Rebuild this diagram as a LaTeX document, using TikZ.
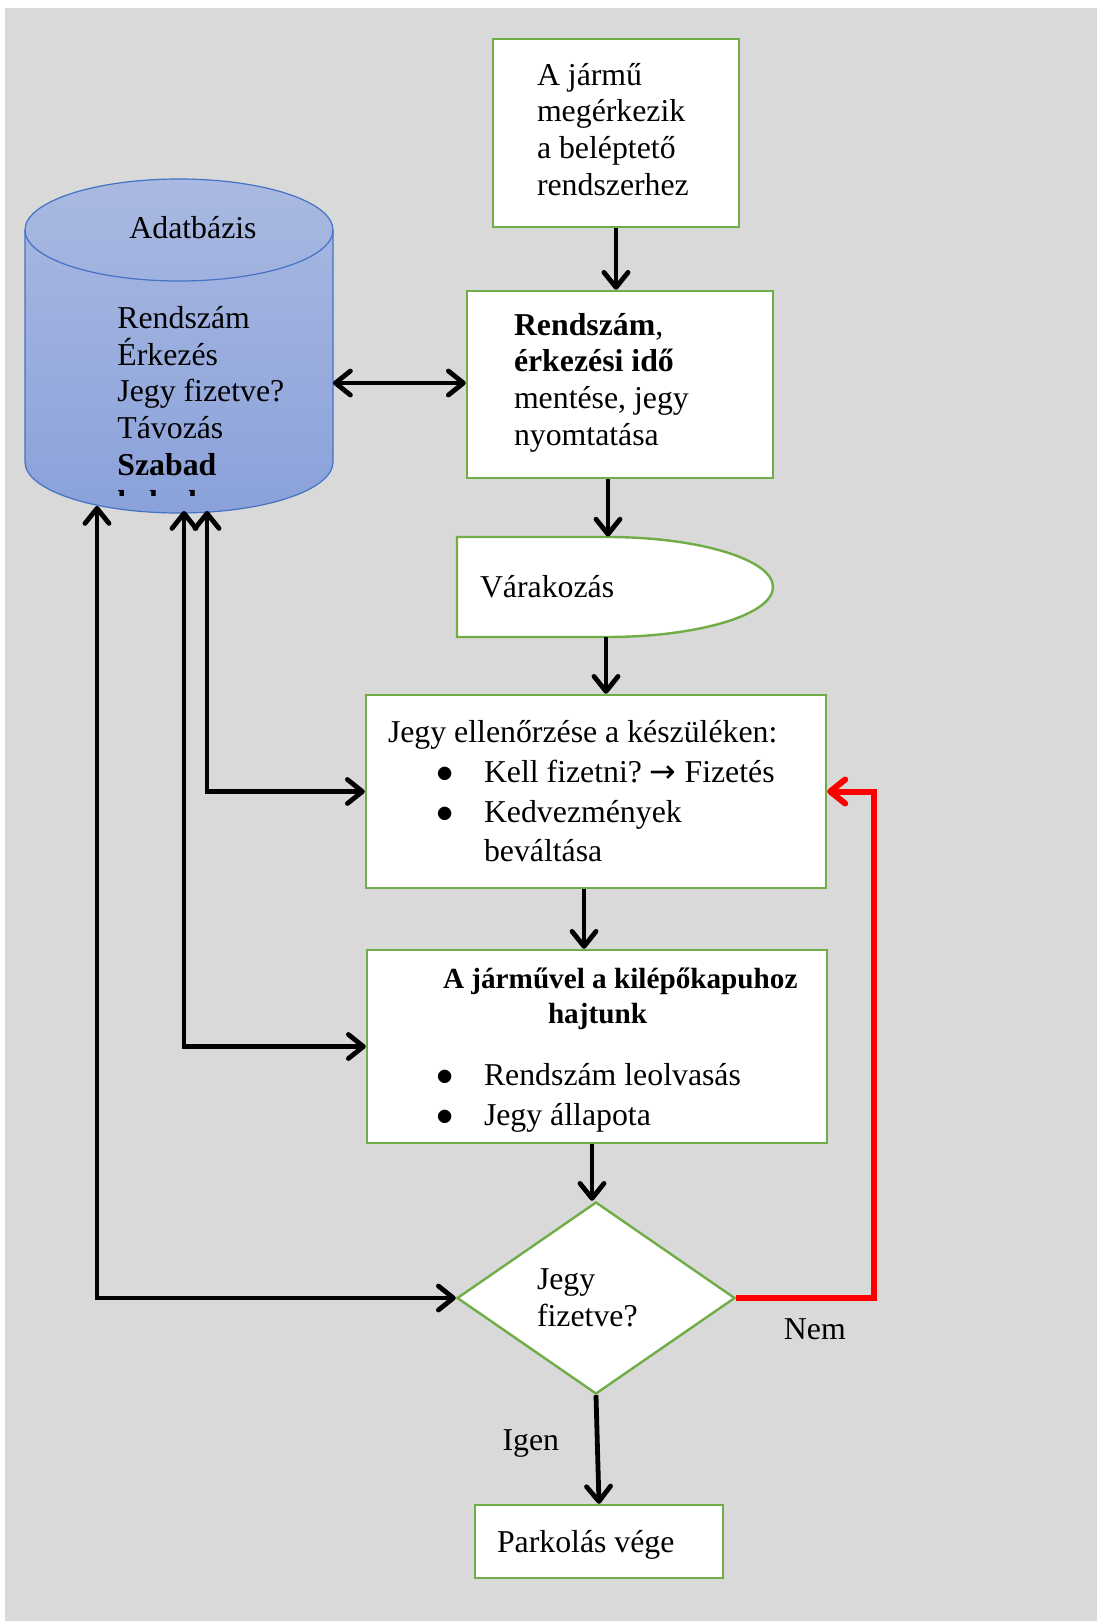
\documentclass[tikz,border=0pt]{standalone}
\usepackage{fontspec}
\setmainfont{Liberation Serif}
\newfontfamily\nyilbetu{DejaVu Sans}
\usetikzlibrary{arrows.meta,shapes.geometric}
\definecolor{hatter}{HTML}{D9D9D9}
\definecolor{zoldkeret}{HTML}{70AD47}
\definecolor{kekkeret}{HTML}{4472C4}
\definecolor{hengerfent}{HTML}{A9B9E1}
\definecolor{hengerlent}{HTML}{8AA1DA}
\frenchspacing
\newcommand{\betu}{\fontsize{15.9}{18.35}\selectfont}
\newcommand{\cimbetu}{\fontsize{14.6}{17.5}\selectfont\bfseries}
\newcommand{\pont}{\makebox[48pt][l]{\hspace*{24pt}$\bullet$}}
\newcommand{\behuz}{\hspace*{48pt}}
\newcommand{\jobbra}{{\nyilbetu →}}
\tikzset{
  doboz/.style={rectangle, draw=zoldkeret, line width=1.2pt, fill=white, inner ysep=0pt, align=left, font=\betu,
    execute at begin node={\spaceskip=0pt\xspaceskip=0pt\relax}},
  dontes/.style={diamond, draw=zoldkeret, line width=1.2pt, fill=white, inner sep=0pt, align=left, font=\betu,
    execute at begin node={\spaceskip=0pt\xspaceskip=0pt\relax}},
  szoveg/.style={inner sep=0pt, align=left, font=\betu,
    execute at begin node={\spaceskip=0pt\xspaceskip=0pt\relax}},
  cimke/.style={inner sep=0pt, font=\betu, text=black},
  hegy/.tip={Straight Barb[length=7.5pt, width=12pt, line cap=round, line join=round]},
  nyil/.style={line width=2.4pt, -hegy},
  ketnyil/.style={line width=2.4pt, hegy-hegy},
  piros/.style={draw=red, line width=3pt, -hegy}
}
\begin{document}
\begin{tikzpicture}[x=0.5pt, y=0.5pt]
\useasboundingbox (0,0) rectangle (1097,-1621);
\fill[hatter] (5,-8) rectangle (1097,-1621);

\path[top color=hengerfent, bottom color=hengerlent, draw=kekkeret, line width=0.6pt] (25,-230) -- (25,-462)
  arc[start angle=180, end angle=360, x radius=77pt, y radius=25.5pt] -- (333,-230)
  arc[start angle=0, end angle=180, x radius=77pt, y radius=25.5pt] -- cycle;
\draw[kekkeret, line width=0.6pt] (25,-230) arc[start angle=180, end angle=360, x radius=77pt, y radius=25.5pt];
\node[szoveg] (adatbazis) at (193,-228) {Adatbázis};
\begin{scope}
  \clip (25,-178) rectangle (333,-495);
  \node[szoveg, anchor=north west] (mezok) at (117,-306) {Rendszám\\Érkezés\\Jegy fizetve?\\Távozás\\\textbf{Szabad}\\\textbf{helyek}};
\end{scope}
\coordinate (db-jobb) at (333,-383);
\coordinate (db-a) at (97,-506);
\coordinate (db-b) at (184,-511);
\coordinate (db-c) at (207,-511);

\node[doboz, minimum width=123pt, minimum height=94pt, inner xsep=22pt, text width=79pt, text depth=59pt] (erkezik) at (616,-133) {A jármű\\megérkezik\\a beléptető\\rendszerhez};
\node[doboz, minimum width=153pt, minimum height=93.5pt, inner xsep=23.5pt, text width=106pt, text depth=60.5pt] (ment) at (620,-384.5) {\textbf{Rendszám},\\\textbf{érkezési idő}\\mentése, jegy\\nyomtatása};
\draw[zoldkeret, line width=1.2pt, fill=white] (457,-537) -- (607,-537)
  arc[start angle=90, end angle=-90, x radius=83pt, y radius=25pt] -- (457,-637) -- cycle;
\node[szoveg, minimum width=158pt, minimum height=50pt, inner xsep=11.5pt, text width=135pt] (var) at (615,-587) {Várakozás};
\node[doboz, minimum width=230pt, minimum height=96.5pt, inner xsep=11pt, text width=208pt] (ellenor) at (596,-791.5) {Jegy ellenőrzése a készüléken:\\[1.5pt]
  \pont Kell fizetni? \jobbra{} Fizetés\\[1.5pt]
  \pont Kedvezmények\\[1.5pt]
  \behuz beváltása};
\node[doboz, minimum width=230pt, minimum height=96.5pt, inner xsep=10.5pt, text width=209pt, text height=13.5pt, text depth=72pt] (kapu) at (597,-1046.5) {\hspace*{27.5pt}\mbox{\cimbetu A járművel a kilépőkapuhoz}\\[-0.85pt]
  \hspace*{80pt}\mbox{\cimbetu hajtunk}\\[12.65pt]
  \pont Rendszám leolvasás\\[1.65pt]
  \pont Jegy állapota};
\node[dontes, minimum width=139pt, minimum height=96pt, text width=59pt] (fizetve) at (596,-1298) {Jegy\\fizetve?};
\node[doboz, minimum width=124pt, minimum height=36.5pt, inner xsep=11pt, text width=102pt, text depth=0pt] (vege) at (599,-1541.5) {Parkolás vége};

\draw[nyil] (erkezik.south) -- (erkezik.south |- ment.north);
\draw[nyil] ([xshift=-6pt]ment.south) -- ([xshift=-6pt]ment.south |- var.north);
\draw[nyil] ([xshift=-4.5pt]var.south) -- ([xshift=-4.5pt]var.south |- ellenor.north);
\draw[nyil] ([xshift=-6pt]ellenor.south) -- ([xshift=-6pt]ellenor.south |- kapu.north);
\draw[nyil] ([xshift=-2.5pt]kapu.south) -- ([xshift=-2.5pt]kapu.south |- fizetve.north);
\draw[nyil] (fizetve.south) -- node[cimke, left=18pt, yshift=3pt]{Igen} (vege.north);
\draw[piros] (fizetve.east) -- node[cimke, pos=0.57, below=9pt]{Nem} ++(138,0) |- (ellenor.east);

\draw[ketnyil] (db-jobb) -- (db-jobb -| ment.west);
\draw[ketnyil] (db-c) |- (ellenor.west);
\draw[ketnyil] (db-b) |- (kapu.west);
\draw[ketnyil] (db-a) |- (fizetve.west);
\end{tikzpicture}
\end{document}
